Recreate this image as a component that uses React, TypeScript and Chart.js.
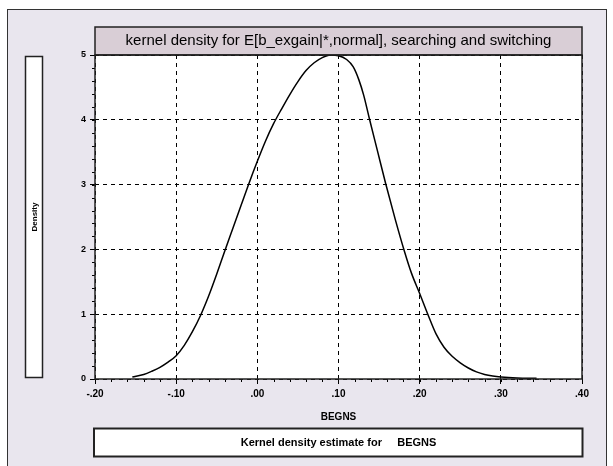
import React, { useEffect, useRef } from 'react';
import Chart from 'chart.js/auto';

// Kernel density curve (x = BEGNS value, y = density)
const X_VALUES = [
  -0.154, -0.14, -0.13, -0.12, -0.11, -0.1, -0.09, -0.08, -0.07, -0.06,
  -0.05, -0.04, -0.03, -0.02, -0.01, 0.0, 0.01, 0.02, 0.03, 0.04,
  0.05, 0.06, 0.07, 0.08, 0.09, 0.1, 0.11, 0.118, 0.125, 0.131,
  0.138, 0.148, 0.158, 0.17, 0.181, 0.19, 0.2, 0.21, 0.22, 0.23,
  0.24, 0.25, 0.26, 0.27, 0.28, 0.29, 0.3, 0.32, 0.344,
];
const DENSITY = [
  0.03, 0.07, 0.12, 0.18, 0.26, 0.36, 0.52, 0.73, 0.98, 1.28,
  1.62, 1.98, 2.33, 2.68, 3.03, 3.36, 3.67, 3.94, 4.17, 4.39,
  4.59, 4.76, 4.88, 4.96, 5.0, 4.99, 4.93, 4.82, 4.62, 4.38,
  4.02, 3.52, 3.02, 2.46, 1.98, 1.63, 1.32, 1.0, 0.7, 0.49,
  0.35, 0.25, 0.17, 0.11, 0.07, 0.045, 0.03, 0.015, 0.01,
];

const X_TICK_VALUES = [-0.2, -0.1, 0, 0.1, 0.2, 0.3, 0.4];
const X_TICK_LABELS = ['-.20', '-.10', '.00', '.10', '.20', '.30', '.40'];
const X_MINOR_STEP = 0.02;
const Y_TICK_VALUES = [0, 1, 2, 3, 4, 5];
const Y_TICK_LABELS = ['0', '1', '2', '3', '4', '5'];
const Y_MINOR_STEP = 0.2;

const TITLE = 'kernel density for E[b_exgain|*,normal], searching and switching';
const X_TITLE = 'BEGNS';
const Y_TITLE = 'Density';
const FOOTER = 'Kernel density estimate for     BEGNS';

const W = 613;
const H = 466;
const FONT = '"Liberation Sans", Arial, sans-serif';

export default function App() {
  const ref = useRef<HTMLCanvasElement>(null);

  useEffect(() => {
    const canvas = ref.current;
    if (!canvas) return;

    const decor = {
      id: 'decor',
      beforeDraw(chart: any) {
        const { ctx, chartArea: a } = chart;
        const cx = (a.left + a.right) / 2;
        ctx.save();
        ctx.fillStyle = '#ffffff';
        ctx.fillRect(0, 0, W, H);
        // outer panel
        ctx.fillStyle = '#e9e6ee';
        ctx.fillRect(7.5, 9.5, 599, 470);
        ctx.strokeStyle = '#333';
        ctx.lineWidth = 1;
        ctx.strokeRect(7.5, 9.5, 599, 470);
        // plot background
        ctx.fillStyle = '#ffffff';
        ctx.fillRect(a.left, a.top, a.right - a.left, a.bottom - a.top);
        // title box
        ctx.fillStyle = '#d9ced6';
        ctx.fillRect(a.left, 27, a.right - a.left, a.top - 27);
        ctx.strokeStyle = '#222';
        ctx.lineWidth = 1.5;
        ctx.strokeRect(a.left, 27, a.right - a.left, a.top - 27);
        ctx.fillStyle = '#000';
        ctx.font = '15px ' + FONT;
        ctx.textAlign = 'center';
        ctx.textBaseline = 'middle';
        ctx.fillText(TITLE, cx, 41);
        // left "Density" box
        ctx.fillStyle = '#ffffff';
        ctx.fillRect(25.5, 56.5, 17, 321);
        ctx.strokeStyle = '#222';
        ctx.lineWidth = 1.5;
        ctx.strokeRect(25.5, 56.5, 17, 321);
        ctx.save();
        ctx.translate(34.5, 217);
        ctx.rotate(-Math.PI / 2);
        ctx.fillStyle = '#000';
        ctx.font = 'bold 8px ' + FONT;
        ctx.textAlign = 'center';
        ctx.textBaseline = 'middle';
        ctx.fillText(Y_TITLE, 0, 0);
        ctx.restore();
        // bottom box
        ctx.fillStyle = '#ffffff';
        ctx.fillRect(94, 428.5, 488.5, 28);
        ctx.strokeStyle = '#222';
        ctx.lineWidth = 2;
        ctx.strokeRect(94, 428.5, 488.5, 28);
        ctx.fillStyle = '#000';
        ctx.font = 'bold 11px ' + FONT;
        ctx.textAlign = 'center';
        ctx.textBaseline = 'middle';
        ctx.fillText(FOOTER, cx, 443);
        ctx.restore();
      },
      afterDraw(chart: any) {
        const { ctx, chartArea: a, scales } = chart;
        ctx.save();
        // minor ticks
        ctx.strokeStyle = '#000';
        ctx.lineWidth = 1;
        ctx.beginPath();
        const xs = scales.x;
        for (let v = xs.min; v <= xs.max + 1e-9; v += X_MINOR_STEP) {
          const px = Math.round(xs.getPixelForValue(v)) + 0.5;
          ctx.moveTo(px, a.bottom);
          ctx.lineTo(px, a.bottom + 3);
        }
        const ys = scales.y;
        for (let v = ys.min; v <= ys.max + 1e-9; v += Y_MINOR_STEP) {
          const py = Math.round(ys.getPixelForValue(v)) + 0.5;
          ctx.moveTo(a.left, py);
          ctx.lineTo(a.left - 3, py);
        }
        ctx.stroke();
        // plot frame
        ctx.strokeStyle = '#222';
        ctx.lineWidth = 1.5;
        ctx.strokeRect(a.left, a.top, a.right - a.left, a.bottom - a.top);
        ctx.restore();
      },
    };

    const chart = new Chart(canvas, {
      type: 'line',
      data: {
        datasets: [
          {
            data: X_VALUES.map((x, i) => ({ x, y: DENSITY[i] })),
            borderColor: '#000',
            borderWidth: 1.5,
            pointRadius: 0,
            cubicInterpolationMode: 'monotone',
            fill: false,
          },
        ],
      },
      options: {
        animation: false,
        responsive: false,
        devicePixelRatio: 1,
        layout: { padding: { left: 0, right: 31, top: 55, bottom: 43 } },
        plugins: {
          legend: { display: false },
          tooltip: { enabled: false },
          title: { display: false },
        },
        scales: {
          x: {
            type: 'linear',
            min: -0.2,
            max: 0.4,
            afterBuildTicks: (s: any) => {
              s.ticks = X_TICK_VALUES.map((v) => ({ value: v }));
            },
            afterFit: (s: any) => {
              s.height = 44;
            },
            ticks: {
              autoSkip: false,
              maxRotation: 0,
              padding: 4,
              color: '#000',
              font: { family: FONT, size: 10, weight: 'bold' },
              callback: (_v: any, i: number) => X_TICK_LABELS[i],
            },
            grid: { color: '#000', lineWidth: 1, tickLength: 5, tickColor: '#000', tickBorderDash: [] },
            border: { display: false, dash: [4, 4] },
            title: {
              display: true,
              text: X_TITLE,
              color: '#000',
              font: { family: FONT, size: 10, weight: 'bold' },
              padding: 0,
            },
          },
          y: {
            type: 'linear',
            min: 0,
            max: 5,
            afterBuildTicks: (s: any) => {
              s.ticks = Y_TICK_VALUES.map((v) => ({ value: v }));
            },
            afterFit: (s: any) => {
              s.width = 95;
            },
            ticks: {
              autoSkip: false,
              padding: 4,
              color: '#000',
              font: { family: FONT, size: 9, weight: 'bold' },
              callback: (_v: any, i: number) => Y_TICK_LABELS[i],
            },
            grid: { color: '#000', lineWidth: 1, tickLength: 5, tickColor: '#000', tickBorderDash: [] },
            border: { display: false, dash: [4, 4] },
          },
        },
      },
      plugins: [decor],
    } as any);

    return () => chart.destroy();
  }, []);

  return (
    <div style={{ position: 'absolute', left: 0, top: 0, width: W, height: H }}>
      <canvas ref={ref} width={W} height={H} style={{ width: W, height: H, display: 'block' }} />
    </div>
  );
}
